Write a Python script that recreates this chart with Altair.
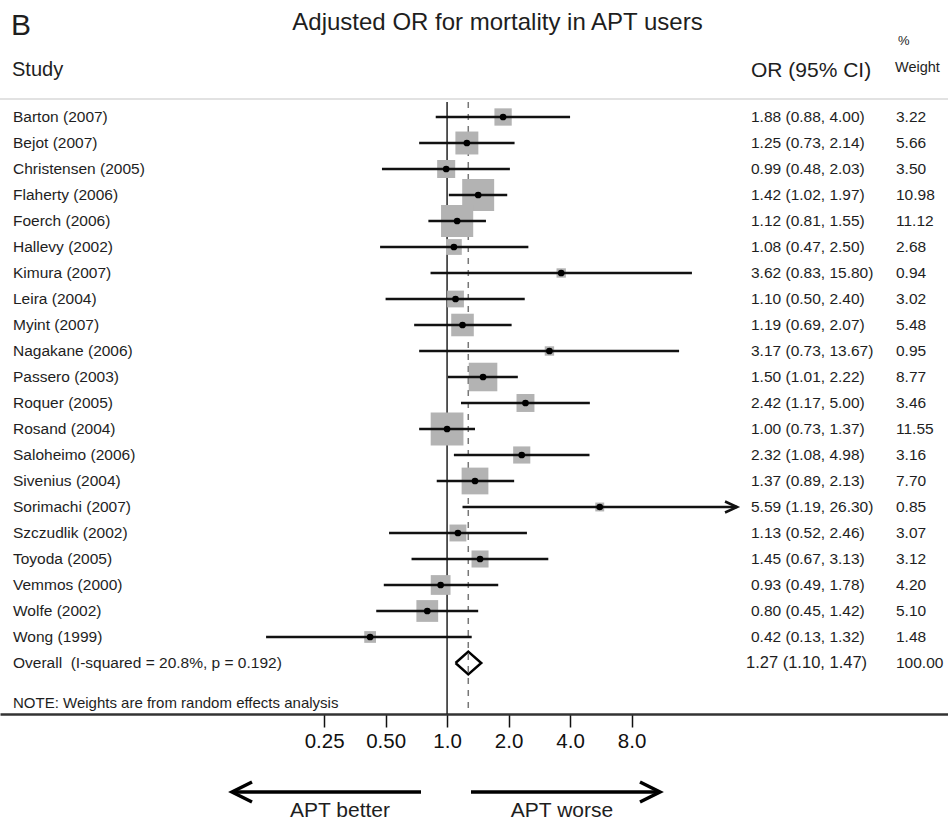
import altair as alt
import pandas as pd

studies = ["Barton (2007)", "Bejot (2007)", "Christensen (2005)", "Flaherty (2006)",
           "Foerch (2006)", "Hallevy (2002)", "Kimura (2007)", "Leira (2004)",
           "Myint (2007)", "Nagakane (2006)", "Passero (2003)", "Roquer (2005)",
           "Rosand (2004)", "Saloheimo (2006)", "Sivenius (2004)", "Sorimachi (2007)",
           "Szczudlik (2002)", "Toyoda (2005)", "Vemmos (2000)", "Wolfe (2002)", "Wong (1999)"]
odds = [1.88, 1.25, 0.99, 1.42, 1.12, 1.08, 3.62, 1.10, 1.19, 3.17, 1.50, 2.42,
        1.00, 2.32, 1.37, 5.59, 1.13, 1.45, 0.93, 0.80, 0.42]
lower = [0.88, 0.73, 0.48, 1.02, 0.81, 0.47, 0.83, 0.50, 0.69, 0.73, 1.01, 1.17,
         0.73, 1.08, 0.89, 1.19, 0.52, 0.67, 0.49, 0.45, 0.13]
upper = [4.00, 2.14, 2.03, 1.97, 1.55, 2.50, 15.80, 2.40, 2.07, 13.67, 2.22, 5.00,
         1.37, 4.98, 2.13, 26.30, 2.46, 3.13, 1.78, 1.42, 1.32]
weights = [3.22, 5.66, 3.50, 10.98, 11.12, 2.68, 0.94, 3.02, 5.48, 0.95, 8.77, 3.46,
           11.55, 3.16, 7.70, 0.85, 3.07, 3.12, 4.20, 5.10, 1.48]

overall_label = "Overall\u00a0 (I-squared = 20.8%, p = 0.192)"
overall_or = [1.27, 1.10, 1.47]
overall_weight = "100.00"
tick_values = [0.25, 0.5, 1, 2, 4, 8]

FONT = "Liberation Sans"
TXT = "#1e1e1e"

df = pd.DataFrame({
    "study": studies,
    "or": odds,
    "lo": lower,
    "hi": upper,
    "weight": weights,
    "row": list(range(len(studies))),
})
df["ortext"] = [f"{o:.2f} ({l:.2f}, {h:.2f})" for o, l, h in zip(odds, lower, upper)]
df["wtext"] = [f"{w:.2f}" for w in weights]

n = len(studies)
orow = n  # overall row index

xs = alt.Scale(type="log", base=2, domain=[0.006477, 283.3], range=[0, 948], nice=False)
ys = alt.Scale(domain=[-4.5, 22.962], reverse=True, nice=False, zero=False)

XAXIS = alt.Axis(values=tick_values,
                 labelExpr="datum.value < 1 ? format(datum.value, '.2f') : format(datum.value, '.1f')",
                 tickSize=13, tickWidth=1.5, tickColor="#111",
                 domainColor="#333", domainWidth=2.5,
                 labelFont=FONT, labelFontSize=20.5, labelColor="#111",
                 labelPadding=4, labelFlush=False, labelOverlap=False,
                 grid=False, orient="bottom", title=None)


def X(field):
    return alt.X(field, type="quantitative", scale=xs, axis=XAXIS, title=None)


def Y(field):
    return alt.Y(field, type="quantitative", scale=ys, axis=None, title=None)


base = alt.Chart(df)

# reference lines (null and overall)
lines_df = pd.DataFrame({"x": [1.0], "y1": [-0.58], "y2": [22.962]})
null_line = alt.Chart(lines_df).mark_rule(color="#222", strokeWidth=1.5).encode(
    x=X("x"), y=Y("y1"), y2="y2")

ov_df = pd.DataFrame({"x": [overall_or[0]], "y1": [-0.58], "y2": [22.962]})
ov_line = alt.Chart(ov_df).mark_rule(color="#777", strokeWidth=1.5, strokeDash=[6, 6]).encode(
    x=X("x"), y=Y("y1"), y2="y2")

# header separator
sep = alt.Chart(pd.DataFrame({"y": [-0.692]})).mark_rule(color="#d9d9d9", strokeWidth=1.5).encode(
    x=alt.value(0), x2=alt.value(948), y=Y("y"))

squares = base.mark_square(color="#b3b3b3", opacity=1).encode(
    x=X("or"), y=Y("row"),
    size=alt.Size("weight:Q", scale=alt.Scale(domain=[0, 12], range=[0, 1116]), legend=None))

ci = base.mark_rule(color="#111", strokeWidth=2.5).encode(x=X("lo"), x2="hi", y=Y("row"))

dots = base.mark_circle(color="#000", size=45, opacity=1).encode(x=X("or"), y=Y("row"))

arrow_tip = base.transform_filter("datum.hi > 16").mark_point(
    shape="M-2.2,-1L0,0L-2.2,1", filled=False, stroke="#111", strokeWidth=2.5, size=121,
    opacity=1).encode(x=X("hi"), y=Y("row"))

# diamond for overall estimate
dia_df = pd.DataFrame({
    "x": [overall_or[1], overall_or[0], overall_or[2], overall_or[0], overall_or[1]],
    "y": [orow, orow - 0.44, orow, orow + 0.44, orow],
    "o": [0, 1, 2, 3, 4],
})
diamond = alt.Chart(dia_df).mark_line(color="#000", strokeWidth=2.5, strokeJoin="miter").encode(
    x=X("x"), y=Y("y"), order="o:Q")

# text columns
lab = base.mark_text(align="left", baseline="middle", font=FONT, fontSize=15.5, color=TXT).encode(
    x=alt.value(13), y=Y("row"), text="study")
ortxt = base.mark_text(align="left", baseline="middle", font=FONT, fontSize=15.5, color=TXT).encode(
    x=alt.value(751), y=Y("row"), text="ortext")
wtxt = base.mark_text(align="left", baseline="middle", font=FONT, fontSize=15.5, color=TXT).encode(
    x=alt.value(896), y=Y("row"), text="wtext")

ov_text_df = pd.DataFrame({
    "t": [overall_label, f"{overall_or[0]:.2f} ({overall_or[1]:.2f}, {overall_or[2]:.2f})", overall_weight],
    "row": [orow] * 3,
})
ov_lab = alt.Chart(ov_text_df.iloc[[0]]).mark_text(align="left", baseline="middle", font=FONT,
                                                    fontSize=15.5, color=TXT).encode(
    x=alt.value(13), y=Y("row"), text="t")
ov_or = alt.Chart(ov_text_df.iloc[[1]]).mark_text(align="left", baseline="middle", font=FONT,
                                                   fontSize=16.5, color=TXT).encode(
    x=alt.value(746), y=Y("row"), text="t")
ov_w = alt.Chart(ov_text_df.iloc[[2]]).mark_text(align="left", baseline="middle", font=FONT,
                                                  fontSize=15.5, color=TXT).encode(
    x=alt.value(896), y=Y("row"), text="t")

note = alt.Chart(pd.DataFrame({"t": ["NOTE: Weights are from random effects analysis"], "row": [22.54]})).mark_text(
    align="left", baseline="middle", font=FONT, fontSize=15, color=TXT).encode(
    x=alt.value(13), y=Y("row"), text="t")


def label(text, x, y, size, align="left", color=TXT):
    return alt.Chart(pd.DataFrame({"t": [text]})).mark_text(
        align=align, baseline="alphabetic", font=FONT, fontSize=size, color=color).encode(
        x=alt.value(x), y=alt.value(y), text="t")


title = label("Adjusted OR for mortality in APT users", 497.5, 30, 24, align="center")
panel = label("B", 11, 35, 30)
h_study = label("Study", 12, 76, 20)
h_or = label("OR (95% CI)", 751, 77, 21)
h_pct = label("%", 898, 45, 13)
h_w = label("Weight", 895, 72, 14.5)

better = label("APT better", 340, 817, 21, align="center")
worse = label("APT worse", 562, 817, 21, align="center")

# direction arrows below the axis
arr_df = pd.DataFrame({"d": ["better", "worse"]})
arr_left = alt.Chart(arr_df.iloc[[0]]).mark_rule(color="#000", strokeWidth=3.5).encode(
    x=alt.value(421), x2=alt.value(234), y=alt.value(792))
arr_right = alt.Chart(arr_df.iloc[[1]]).mark_rule(color="#000", strokeWidth=3.5).encode(
    x=alt.value(471), x2=alt.value(658), y=alt.value(792))
head_left = alt.Chart(arr_df.iloc[[0]]).mark_point(
    shape="M2,-1L0,0L2,1", filled=False, stroke="#000", strokeWidth=3.5, size=400, opacity=1).encode(
    x=alt.value(232), y=alt.value(792))
head_right = alt.Chart(arr_df.iloc[[1]]).mark_point(
    shape="M-2,-1L0,0L-2,1", filled=False, stroke="#000", strokeWidth=3.5, size=400, opacity=1).encode(
    x=alt.value(660), y=alt.value(792))

chart = alt.layer(
    null_line, ov_line, sep, squares, ci, dots, arrow_tip, diamond,
    lab, ortxt, wtxt, ov_lab, ov_or, ov_w, note,
    title, panel, h_study, h_or, h_pct, h_w,
    arr_left, arr_right, head_left, head_right, better, worse,
).properties(
    width=948, height=714,
    autosize=alt.AutoSizeParams(type="none"),
    padding={"left": 0, "top": 0, "right": 0, "bottom": 107},
    background="white",
).configure_view(stroke=None)

chart.save("out.html", embed_options={"renderer": "svg", "actions": False})
